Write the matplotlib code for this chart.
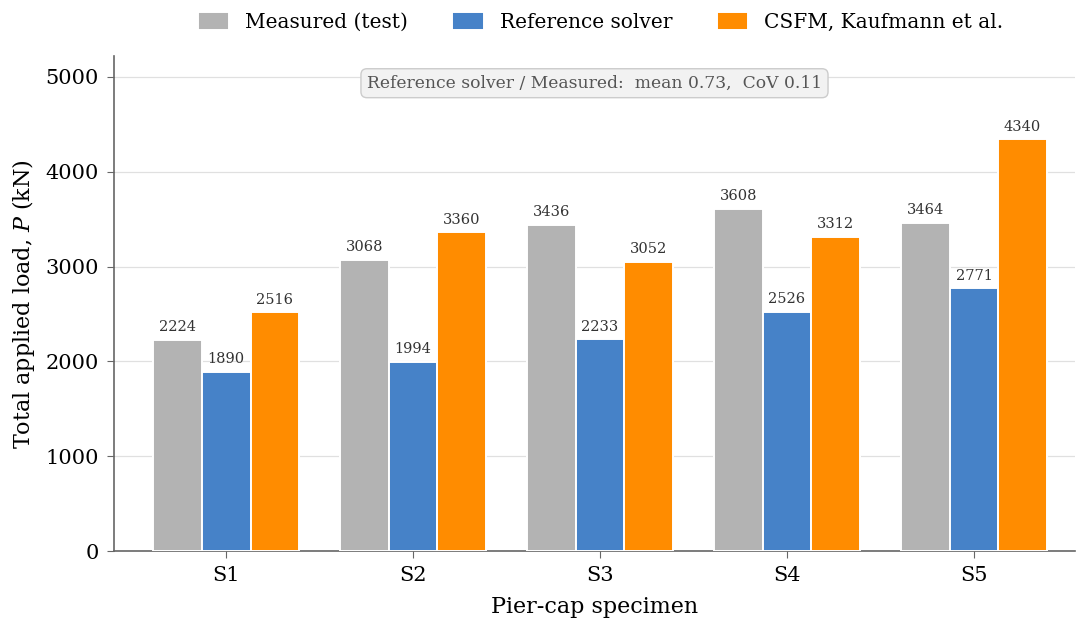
import numpy as np
import matplotlib
matplotlib.use("Agg")
import matplotlib.pyplot as plt

specimens = ["S1", "S2", "S3", "S4", "S5"]
measured = [2224, 3068, 3436, 3608, 3464]
ref_solver = [1890, 1994, 2233, 2526, 2771]
csfm = [2516, 3360, 3052, 3312, 4340]

plt.rcParams.update({
    "font.family": "DejaVu Serif",
    "mathtext.fontset": "dejavuserif",
})

fig = plt.figure(figsize=(10.76, 6.22), dpi=100)
ax = fig.add_axes([0.106, 0.114, 0.893, 0.796])

x = np.arange(len(specimens))
w = 0.26
series = [
    (measured, "Measured (test)", "#b3b3b3"),
    (ref_solver, "Reference solver", "#4682c8"),
    (csfm, "CSFM, Kaufmann et al.", "#ff8c00"),
]
for i, (vals, label, color) in enumerate(series):
    bars = ax.bar(x + (i - 1) * w, vals, w, color=color, edgecolor="white",
                  linewidth=1.4, label=label, zorder=3)
    for b, v in zip(bars, vals):
        ax.text(b.get_x() + b.get_width() / 2, v + 60, f"{v}", ha="center",
                va="bottom", fontsize=10.5, color="#333333")

# ratio statistics for the text box (population std)
ratio = np.array(ref_solver) / np.array(measured)
mean = ratio.mean()
cov = ratio.std() / mean
ax.text(0.5, 0.945, f"Reference solver / Measured:  mean {mean:.2f},  CoV {cov:.2f}",
        transform=ax.transAxes, ha="center", va="center", fontsize=12.3, color="#555555",
        bbox=dict(boxstyle="round,pad=0.35", facecolor="#f2f2f2", edgecolor="#cccccc"))

ax.set_xticks(x)
ax.set_xticklabels(specimens, fontsize=15)
ax.tick_params(axis="y", labelsize=15)
ax.set_xlim(-0.6, 4.54)
ax.set_ylim(0, 5220)
ax.set_yticks([0, 1000, 2000, 3000, 4000, 5000])
ax.yaxis.grid(True, color="#e0e0e0", linewidth=0.9, zorder=0)
ax.set_axisbelow(True)
ax.set_xlabel("Pier-cap specimen", fontsize=16, labelpad=8)
ax.set_ylabel("Total applied load, $P$ (kN)", fontsize=16, labelpad=6)
for s in ["top", "right"]:
    ax.spines[s].set_visible(False)
for s in ["left", "bottom"]:
    ax.spines[s].set_color("#666666")
    ax.spines[s].set_linewidth(1.2)
ax.tick_params(colors="#666666", labelcolor="black", length=5, pad=6)

fig.legend(loc="upper center", bbox_to_anchor=(0.558, 1.01), ncol=3, frameon=False,
           fontsize=14.5, handlelength=1.55, handleheight=1.0, handletextpad=0.8,
           columnspacing=2.2)

fig.savefig("out.png", dpi=100)
